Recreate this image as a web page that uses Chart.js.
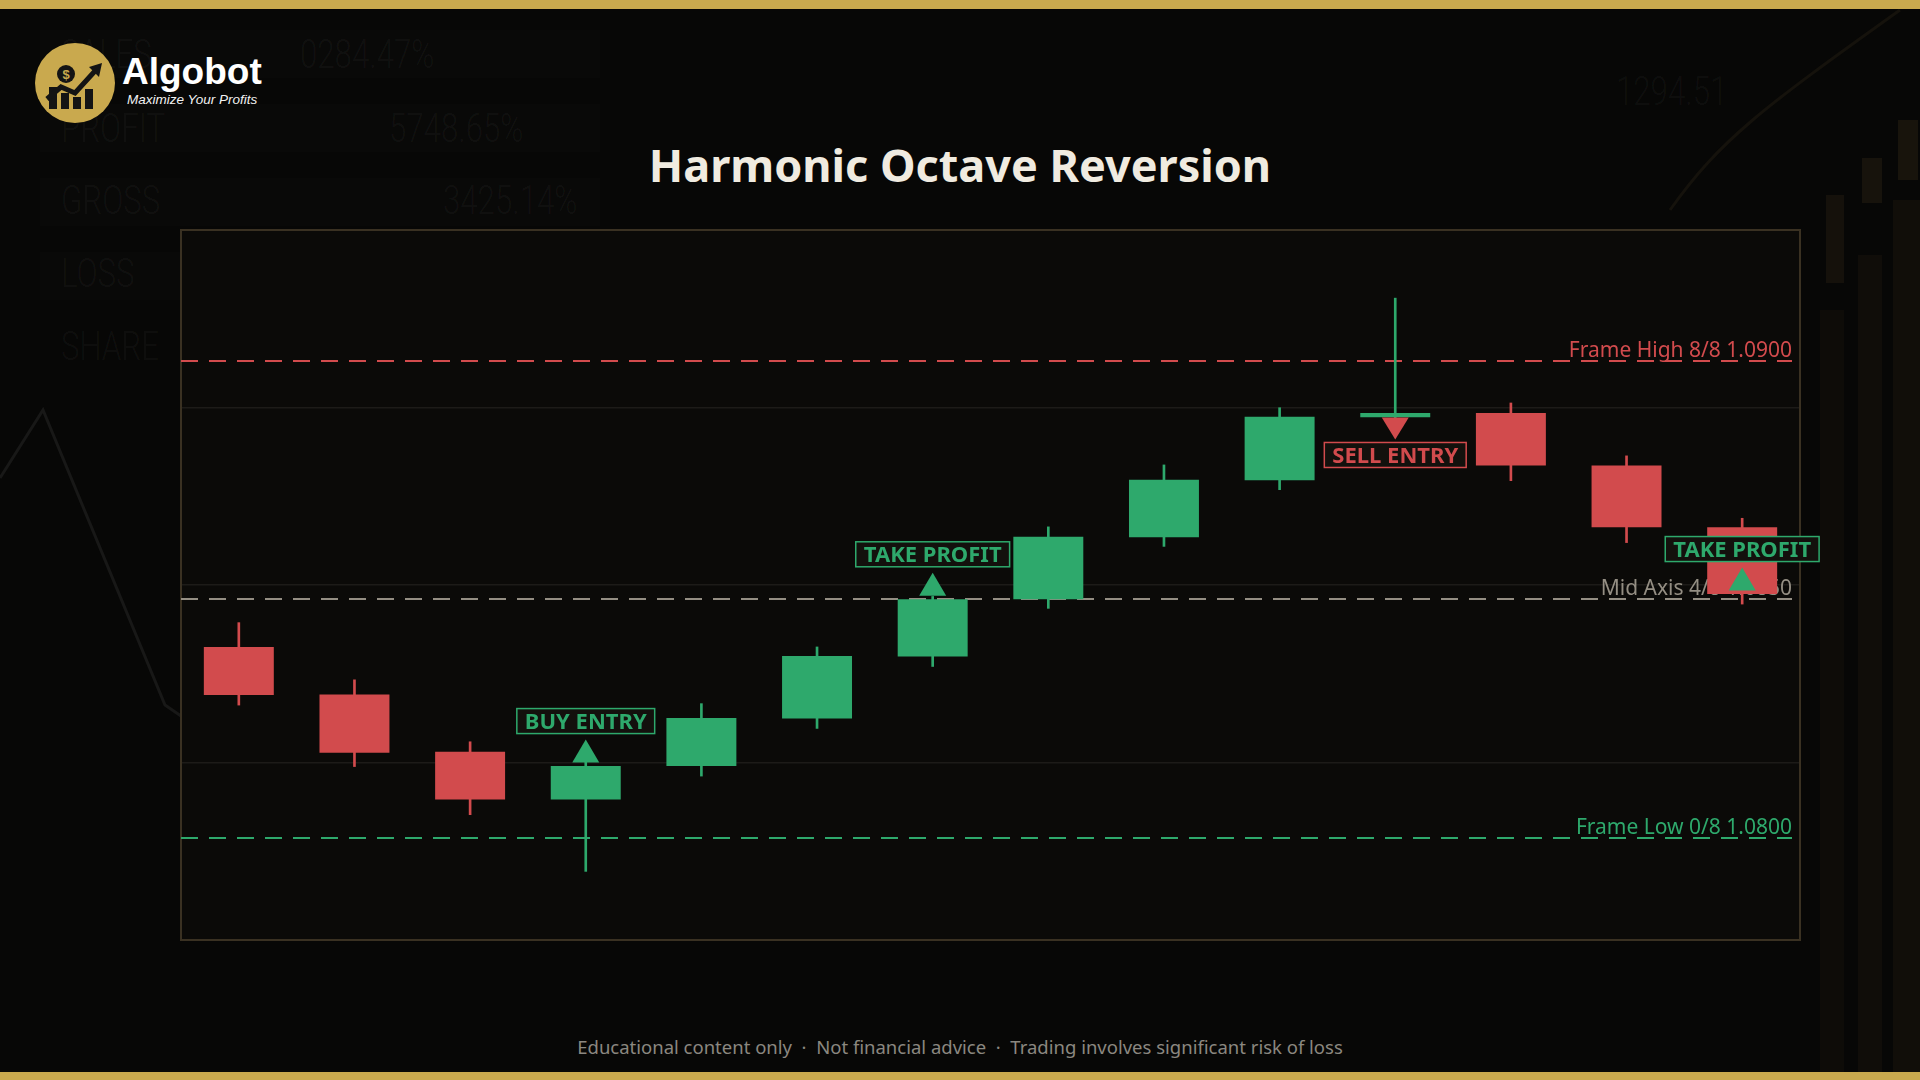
<!DOCTYPE html>
<html>
<head>
<meta charset="utf-8">
<script src="https://cdn.jsdelivr.net/npm/chart.js@4.4.0/dist/chart.umd.min.js"></script>
<style>
  html, body { margin: 0; padding: 0; width: 1920px; height: 1080px; overflow: hidden; background: #070706; font-family: "Noto Sans", sans-serif; }
  .gold-top { position: absolute; left: 0; top: 0; width: 1920px; height: 9px; background: #c9a94e; }
  .gold-bottom { position: absolute; left: 0; top: 1072px; width: 1920px; height: 8px; background: #c9a94e; }
  #deco { position: absolute; left: 0; top: 0; }
  .ghost { position: absolute; color: rgba(255,255,255,0.045); font-family: "Roboto", sans-serif; font-weight: 300; font-size: 40px; line-height: 40px; transform: scaleX(0.78); transform-origin: left top; }
  .brand { position: absolute; left: 122px; top: 53px; color: #fff; font-family: "Liberation Sans", Arial, sans-serif; font-weight: 700; font-size: 37px; line-height: 37px; }
  .tagline { position: absolute; left: 127px; top: 93px; color: #f2f2f2; font-family: "Liberation Sans", Arial, sans-serif; font-style: italic; font-size: 13.5px; line-height: 14px; }
  .title { position: absolute; left: 0; top: 135px; width: 1920px; text-align: center; color: #f0ebe0; font-weight: 700; font-size: 45px; line-height: 60px; }
  #wrap { position: absolute; left: 161px; top: 210px; width: 1679px; height: 750px; }
  .footer { position: absolute; left: 0; top: 1035px; width: 1920px; text-align: center; color: #8b8780; font-size: 18.5px; line-height: 24px; }
</style>
</head>
<body>
<svg id="deco" width="1920" height="1080">
  <!-- faint dashboard image behind everything -->
  <rect x="40" y="30" width="560" height="48" fill="#090908"/>
  <rect x="40" y="104" width="560" height="48" fill="#090908"/>
  <rect x="40" y="178" width="560" height="48" fill="#090908"/>
  <rect x="40" y="252" width="560" height="48" fill="#090908"/>
  <polyline points="0,478 43,410 165,705 181,716" fill="none" stroke="#181817" stroke-width="3"/>
  <path d="M1670,210 C1720,140 1760,110 1900,10" fill="none" stroke="#15120c" stroke-width="3"/>
  <rect x="1820" y="310" width="24" height="762" fill="#0e0c08"/>
  <rect x="1858" y="255" width="24" height="817" fill="#100d09"/>
  <rect x="1893" y="200" width="27" height="872" fill="#110e09"/>
  <rect x="1826" y="195" width="18" height="88" fill="#15110b"/>
  <rect x="1862" y="158" width="20" height="45" fill="#17130c"/>
  <rect x="1898" y="120" width="20" height="60" fill="#18140c"/>
</svg>
<div class="gold-top"></div>
<div class="gold-bottom"></div>

<div class="ghost" style="left:61px;top:35px;">SALES</div>
<div class="ghost" style="left:300px;top:35px;">0284.47%</div>
<div class="ghost" style="left:61px;top:109px;">PROFIT</div>
<div class="ghost" style="left:389px;top:109px;">5748.65%</div>
<div class="ghost" style="left:61px;top:181px;">GROSS</div>
<div class="ghost" style="left:443px;top:181px;">3425.14%</div>
<div class="ghost" style="left:61px;top:254px;">LOSS</div>
<div class="ghost" style="left:61px;top:327px;">SHARE</div>
<div class="ghost" style="left:1616px;top:72px;">1294.51</div>

<svg style="position:absolute;left:35px;top:43px;" width="80" height="80" viewBox="0 0 80 80">
  <circle cx="40" cy="40" r="40" fill="#c9a94e"/>
  <circle cx="31" cy="31" r="9" fill="#141414"/>
  <text x="31" y="36" text-anchor="middle" font-family="Liberation Sans, Arial" font-weight="700" font-size="13" fill="#c9a94e">$</text>
  <rect x="14" y="44" width="8" height="22" fill="#141414"/>
  <rect x="26" y="50" width="8" height="16" fill="#141414"/>
  <rect x="38" y="54" width="8" height="12" fill="#141414"/>
  <rect x="50" y="46" width="8" height="20" fill="#141414"/>
  <polyline points="12,56 26,44 40,50 60,28" fill="none" stroke="#141414" stroke-width="5"/>
  <polygon points="54,24 67,20 64,34" fill="#141414"/>
</svg>
<div class="brand">Algobot</div>
<div class="tagline">Maximize Your Profits</div>

<div class="title">Harmonic Octave Reversion</div>

<div id="wrap"><canvas id="chart"></canvas></div>

<div class="footer">Educational content only &nbsp;·&nbsp; Not financial advice &nbsp;·&nbsp; Trading involves significant risk of loss</div>

<script>
// candles (prices)
const bars = ['1', '2', '3', '4', '5', '6', '7', '8', '9', '10', '11', '12', '13', '14'];
const opens  = [1.08400, 1.08300, 1.08180, 1.08080, 1.08150, 1.08250, 1.08380, 1.08500, 1.08630, 1.08750, 1.08882, 1.08891, 1.08781, 1.08651];
const highs  = [1.08451, 1.08331, 1.08201, 1.08160, 1.08281, 1.08400, 1.08506, 1.08652, 1.08782, 1.08902, 1.09132, 1.08912, 1.08801, 1.08670];
const lows   = [1.08278, 1.08149, 1.08048, 1.07929, 1.08129, 1.08229, 1.08359, 1.08481, 1.08611, 1.08730, 1.08880, 1.08749, 1.08619, 1.08490];
const closes = [1.08299, 1.08178, 1.08080, 1.08150, 1.08251, 1.08381, 1.08500, 1.08631, 1.08751, 1.08883, 1.08891, 1.08781, 1.08651, 1.08511];

// octave levels
const levelValues = [1.0900, 1.0850, 1.0800];
const levelLabels = ['Frame High 8/8 1.0900', 'Mid Axis 4/8 1.0850', 'Frame Low 0/8 1.0800'];

// signals (placed at the candle close)
const markerIdx  = [3, 6, 10, 13];
const markerText = ['BUY ENTRY', 'TAKE PROFIT', 'SELL ENTRY', 'TAKE PROFIT'];
const markerDir  = ['up', 'up', 'down', 'up'];

const UP = '#2ea96c';
const DOWN = '#d24b4d';
const levelColors = [DOWN, '#948e83', UP];

const candleColors = opens.map((o, i) => closes[i] >= o ? UP : DOWN);

const octavePlugin = {
  id: 'octave',
  beforeDraw(chart) {
    const { ctx, chartArea: a } = chart;
    ctx.save();
    ctx.fillStyle = '#0b0a08';
    ctx.fillRect(a.left, a.top, a.width, a.height);
    ctx.restore();
  },
  beforeDatasetsDraw(chart) {
    const { ctx, chartArea: a, scales: { y } } = chart;
    ctx.save();
    ctx.strokeStyle = '#3a3122';
    ctx.lineWidth = 2;
    ctx.strokeRect(a.left, a.top, a.width, a.height);
    levelValues.forEach((v, i) => {
      const py = Math.round(y.getPixelForValue(v));
      ctx.setLineDash([17, 11]);
      ctx.strokeStyle = levelColors[i];
      ctx.lineWidth = 2;
      ctx.beginPath();
      ctx.moveTo(a.left, py);
      ctx.lineTo(a.right - 8, py);
      ctx.stroke();
      ctx.setLineDash([]);
      ctx.font = '21px "Noto Sans"';
      ctx.textAlign = 'right';
      ctx.textBaseline = 'alphabetic';
      ctx.fillStyle = levelColors[i];
      ctx.fillText(levelLabels[i], a.right - 8, py - 4);
    });
    ctx.restore();
  },
  afterDatasetsDraw(chart) {
    const { ctx, scales: { y } } = chart;
    const meta = chart.getDatasetMeta(0);
    ctx.save();
    markerIdx.forEach((idx, k) => {
      const x = meta.data[idx].x;
      const up = markerDir[k] === 'up';
      const col = up ? UP : DOWN;
      const yc = y.getPixelForValue(closes[idx]);
      const bh = 25;
      ctx.font = 'bold 22px "Noto Sans"';
      const bw = ctx.measureText(markerText[k]).width + 16;
      let base, tip, boxY;
      if (up) {
        base = yc - 3.5;
        tip = base - 23;
        boxY = tip - 6 - bh;
      } else {
        base = yc + 4.5;
        tip = base + 22;
        boxY = tip + 3;
      }
      ctx.fillStyle = col;
      ctx.beginPath();
      ctx.moveTo(x - 13.5, base);
      ctx.lineTo(x + 13.5, base);
      ctx.lineTo(x, tip);
      ctx.closePath();
      ctx.fill();

      ctx.fillStyle = '#13110d';
      ctx.fillRect(x - bw / 2, boxY, bw, bh);
      ctx.strokeStyle = col;
      ctx.lineWidth = 1.5;
      ctx.strokeRect(x - bw / 2, boxY, bw, bh);
      ctx.fillStyle = col;
      ctx.textAlign = 'center';
      ctx.textBaseline = 'alphabetic';
      ctx.fillText(markerText[k], x, boxY + bh / 2 + 8);
    });
    ctx.restore();
  }
};

Chart.defaults.font.family = '"Noto Sans", sans-serif';

new Chart(document.getElementById('chart'), {
  type: 'bar',
  data: {
    labels: bars,
    datasets: [
      {
        label: 'Body',
        data: opens.map((o, i) => [o, closes[i]]),
        backgroundColor: candleColors,
        borderWidth: 0,
        categoryPercentage: 1,
        barPercentage: 0.605,
        grouped: false,
        order: 1
      },
      {
        label: 'Wick',
        data: lows.map((l, i) => [l, highs[i]]),
        backgroundColor: candleColors,
        borderWidth: 0,
        barThickness: 2,
        grouped: false,
        order: 2
      }
    ]
  },
  options: {
    responsive: true,
    maintainAspectRatio: false,
    animation: false,
    devicePixelRatio: 1,
    layout: { padding: { left: 20, right: 40, top: 20, bottom: 20 } },
    plugins: {
      legend: { display: false },
      tooltip: { enabled: false }
    },
    scales: {
      x: { display: false, offset: true },
      y: {
        min: 1.07785,
        max: 1.09275,
        ticks: { display: false, count: 5 },
        border: { display: false },
        grid: { color: '#1d1b18', lineWidth: 1.5, drawTicks: false }
      }
    }
  },
  plugins: [octavePlugin]
});
</script>
</body>
</html>
